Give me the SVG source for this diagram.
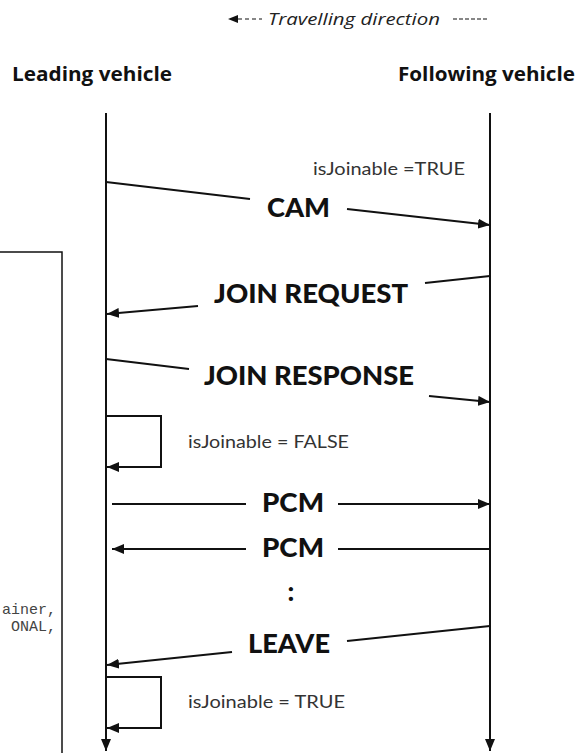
<svg xmlns="http://www.w3.org/2000/svg" width="581" height="753" viewBox="0 0 581 753">
<style>
.ln{stroke:#111;stroke-width:2;fill:none}
.msg{font-family:Lato,"Open Sans",sans-serif;font-weight:900;font-size:26px;fill:#111}
.st{font-family:Lato,"Open Sans",sans-serif;font-size:18px;fill:#333}
.hd{font-family:"Open Sans","Noto Sans",sans-serif;font-weight:700;font-size:20px;fill:#111}
.mono{font-family:"Liberation Mono",monospace;font-size:15px;fill:#444}
</style>
<defs>
<marker id="ah" viewBox="0 0 12 10" refX="12" refY="5" markerWidth="12" markerHeight="10" markerUnits="userSpaceOnUse" orient="auto"><path d="M0,0 L12,5 L0,10 z" fill="#111"/></marker>
</defs>
<rect width="581" height="753" fill="#fff"/>
<g id="code-box">
<rect x="-2" y="252" width="64" height="520" fill="none" stroke="#111" stroke-width="1.5"/>
<text class="mono" x="56" y="614" text-anchor="end">ainer,</text>
<text class="mono" x="56" y="631" text-anchor="end">ONAL,</text>
</g>
<g id="header">
<path d="M228,19 L238,15 L238,23 z" fill="#111"/>
<line x1="238" y1="19" x2="262" y2="19" stroke="#111" stroke-width="1.2" stroke-dasharray="4,3"/>
<text x="268" y="25" font-family="'Open Sans',sans-serif" font-style="italic" font-size="17" fill="#222" textLength="172" lengthAdjust="spacingAndGlyphs">Travelling direction</text>
<line x1="453" y1="19" x2="487" y2="19" stroke="#111" stroke-width="1.2" stroke-dasharray="4,2"/>
</g>
<g id="leading-vehicle">
<text class="hd" x="12" y="81" textLength="160" lengthAdjust="spacingAndGlyphs">Leading vehicle</text>
</g>
<g id="following-vehicle">
<text class="hd" x="398" y="81" textLength="177" lengthAdjust="spacingAndGlyphs">Following vehicle</text>
</g>
<g id="connectors">
<line class="ln" x1="106" y1="113" x2="106" y2="751" marker-end="url(#ah)"/>
<line class="ln" x1="490" y1="113" x2="490" y2="751" marker-end="url(#ah)"/>
<line class="ln" x1="106" y1="182" x2="250" y2="199"/>
<line class="ln" x1="347" y1="209" x2="490" y2="225" marker-end="url(#ah)"/>
<line class="ln" x1="490" y1="276" x2="425" y2="283"/>
<line class="ln" x1="198" y1="306" x2="107" y2="314" marker-end="url(#ah)"/>
<line class="ln" x1="106" y1="359" x2="189" y2="369"/>
<line class="ln" x1="429" y1="396" x2="490" y2="402" marker-end="url(#ah)"/>
<polyline class="ln" points="106,416 161,416 161,467 107,467" marker-end="url(#ah)"/>
<line class="ln" x1="112" y1="504" x2="246" y2="504"/>
<line class="ln" x1="338" y1="504" x2="490" y2="504" marker-end="url(#ah)"/>
<line class="ln" x1="490" y1="549" x2="338" y2="549"/>
<line class="ln" x1="246" y1="549" x2="112" y2="549" marker-end="url(#ah)"/>
<line class="ln" x1="490" y1="626" x2="347" y2="641"/>
<line class="ln" x1="232" y1="652" x2="107" y2="665" marker-end="url(#ah)"/>
<polyline class="ln" points="106,677 161,677 161,728 107,728" marker-end="url(#ah)"/>
</g>
<g id="labels">
<text class="st" x="313" y="175" textLength="152" lengthAdjust="spacingAndGlyphs">isJoinable =TRUE</text>
<text class="msg" x="267" y="217" textLength="63" lengthAdjust="spacingAndGlyphs">CAM</text>
<text class="msg" x="214" y="303" textLength="194" lengthAdjust="spacingAndGlyphs">JOIN REQUEST</text>
<text class="msg" x="204" y="385" textLength="210" lengthAdjust="spacingAndGlyphs">JOIN RESPONSE</text>
<text class="st" x="188" y="448" textLength="161" lengthAdjust="spacingAndGlyphs">isJoinable = FALSE</text>
<text class="msg" x="262" y="512" textLength="62" lengthAdjust="spacingAndGlyphs">PCM</text>
<text class="msg" x="262" y="557" textLength="62" lengthAdjust="spacingAndGlyphs">PCM</text>
<text class="msg" x="291" y="601" text-anchor="middle">:</text>
<text class="msg" x="248" y="653" textLength="82" lengthAdjust="spacingAndGlyphs">LEAVE</text>
<text class="st" x="188" y="708" textLength="157" lengthAdjust="spacingAndGlyphs">isJoinable = TRUE</text>
</g>
</svg>
